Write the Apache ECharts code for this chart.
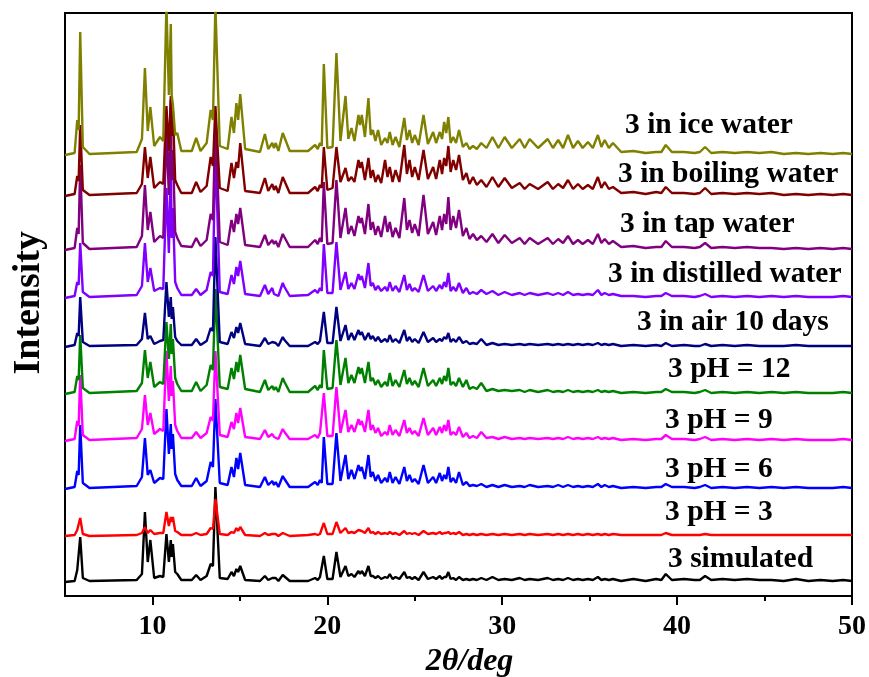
<!DOCTYPE html>
<html>
<head>
<meta charset="utf-8">
<script src="https://cdn.jsdelivr.net/npm/echarts@6/dist/echarts.min.js"></script>
<style>
html,body{margin:0;padding:0;background:#fff;}
#chart{width:869px;height:677px;}
</style>
</head>
<body>
<div id="chart"></div>
<script>
// 2θ sample positions (deg), shared by every pattern
var twoTheta = [
 5.0, 5.55, 5.7, 5.78, 5.87, 6.02, 6.4,
 9.1, 9.4, 9.57, 9.73, 9.88, 10.1, 10.43, 10.62, 10.8, 10.94, 11.05, 11.1, 11.17, 11.3, 11.42, 11.65,
 12.25, 12.5, 12.75, 13.1, 13.33, 13.46, 13.6, 13.85, 14.3, 14.52, 14.66, 14.8, 14.9, 15.02, 15.3,
 16.15, 16.43, 16.62, 16.85, 16.95, 17.05, 17.2, 17.45, 17.55, 17.85, 18.9, 19.3, 19.45, 19.58, 19.68, 19.8, 20.0,
 20.3, 20.52, 20.75, 21.04, 21.2, 21.38, 21.55, 21.78, 21.87, 21.97, 22.15, 22.35, 22.48, 22.6, 22.75, 22.9, 23.08, 23.3, 23.44, 23.57, 23.73, 23.9, 24.12,
 24.4, 24.55, 24.7, 24.85, 25.0, 25.22, 25.5, 25.75, 26.05, 26.22, 26.43, 26.56, 26.68, 26.8, 26.92, 27.05, 27.2, 27.36, 27.53, 27.75, 27.95, 28.13, 28.33, 28.55, 28.8,
 29.1, 29.44, 29.78, 30.14, 30.55, 31.0, 31.28, 31.57, 32.05, 32.6, 32.9, 33.2, 33.48, 33.76, 34.05, 34.33, 34.6, 34.9, 35.18, 35.47, 35.67, 35.86, 36.1, 36.33, 36.8,
 37.5, 38.2, 38.8, 39.1, 39.35, 39.7, 40.4, 41.0, 41.3, 41.6, 41.95, 42.6, 43.3, 44.0, 44.7, 45.4, 46.1, 46.8, 47.5, 48.2, 48.9, 49.5, 50.0
];

var simulated = [
 0,1,12,10,45,4,1,
 2,8,70,20,42,4,6,5,48,20,42,25,38,10,8,2,
 2,7,2,6,18,16,95,4,3,10,6,13,10,16,2,
 1,6,2,4,2,4,1,7,5,1,1,4,2,5,4,26,3,
 3,30,5,16,6,8,5,11,8,11,6,16,6,6,4,6,3,5,4,8,3,5,3,
 10,4,5,3,5,2,10,3,5,3,6,3,5,5,10,3,4,2,5,2,3,2,3,2,4,
 2,5,2,3,2,4,2,3,2,4,2,3,2,4,2,3,2,3,2,5,2,3,2,3,1,
 3,1,3,2,8,2,3,2,2,6,2,3,2,3,2,2,1,3,1,2,1,2,1
];
var pH3 = [
 0,1,6,5,18,2,0,
 1,3,9,3,6,2,3,3,24,10,19,14,19,5,4,1,
 1,3,1,2,8,7,37,2,1,4,3,8,5,9,1,
 0,3,1,2,1,2,0,3,2,0,1,2,1,2,2,13,2,
 2,14,3,8,3,4,3,6,4,5,3,8,3,4,2,4,2,3,2,4,2,3,1,
 5,2,3,2,3,1,5,2,3,2,4,2,3,3,4,2,3,2,4,1,2,1,2,1,2,
 1,2,1,2,1,2,1,2,1,2,1,2,1,2,1,2,1,2,1,2,1,2,1,2,1,
 1,1,1,1,3,1,1,1,1,2,1,1,1,1,1,1,1,1,1,1,1,1,1
];
var pH6 = [
 0,2,18,14,64,6,1,
 3,12,51,14,19,6,11,10,80,35,65,40,55,15,9,3,
 3,11,3,8,27,22,90,6,4,22,12,31,20,36,4,
 2,12,4,8,4,7,2,13,10,2,2,7,4,9,6,52,5,
 5,56,8,34,10,19,10,24,18,22,10,34,12,17,8,14,6,11,7,17,6,12,5,
 22,8,14,7,10,5,24,6,12,6,16,8,14,10,22,7,11,6,17,4,7,3,4,3,5,
 2,4,2,4,2,3,2,4,2,3,2,4,2,4,2,3,2,3,2,5,2,4,2,3,1,
 2,1,2,2,5,2,2,1,2,4,1,2,1,2,1,2,1,2,1,1,1,2,1
];
var pH9 = [
 0,2,20,15,66,6,1,
 3,12,46,16,28,7,12,10,90,40,75,45,60,16,10,3,
 3,9,3,8,24,20,90,6,4,19,12,28,18,33,4,
 2,11,4,7,4,6,2,12,9,2,2,6,3,8,6,48,5,
 5,54,8,31,9,16,9,22,16,20,9,31,11,16,8,13,5,9,6,16,6,11,5,
 21,8,13,7,10,5,23,6,13,6,14,8,16,10,21,6,9,6,14,4,8,3,5,3,9,
 3,4,2,4,2,3,2,3,2,3,2,3,2,4,2,3,2,3,2,4,2,3,2,3,1,
 2,1,2,2,6,2,2,1,2,4,1,2,1,2,1,2,1,2,1,1,1,2,1
];
var pH12 = [
 0,2,18,14,59,6,1,
 3,11,44,16,32,7,12,10,72,35,70,40,55,16,10,3,
 3,12,3,9,29,24,105,7,5,26,15,32,22,39,5,
 2,14,4,8,4,7,2,16,12,2,2,8,4,9,6,44,5,
 6,54,9,36,11,19,11,27,20,26,11,32,13,16,9,14,7,12,8,21,8,14,7,
 24,10,16,9,13,7,26,8,14,8,16,10,18,13,26,9,12,8,16,7,14,5,7,5,11,
 3,5,3,4,3,4,2,4,2,4,2,3,2,4,2,3,2,3,2,4,2,3,2,3,1,
 2,1,2,2,5,2,2,1,2,4,1,2,1,2,1,2,1,2,1,1,1,2,1
];
var air10days = [
 0,2,14,11,50,5,1,
 2,8,34,8,11,3,6,7,65,30,50,28,40,10,6,2,
 2,8,2,6,19,16,110,5,3,15,9,20,14,24,3,
 1,9,3,5,3,4,1,10,7,1,1,5,3,6,4,35,4,
 4,40,6,22,7,14,7,17,12,15,7,14,8,11,6,10,5,8,5,12,5,8,4,
 17,6,10,5,8,4,15,5,9,5,8,6,10,8,14,5,8,5,10,4,6,3,4,3,8,
 2,4,2,3,2,3,2,3,2,3,2,3,2,3,2,3,2,3,2,4,2,3,2,3,1,
 2,1,2,1,4,1,2,1,1,3,1,2,1,2,1,1,1,2,1,1,1,1,1
];
var distilled = [
 0,2,16,13,55,6,1,
 3,12,55,16,30,7,10,9,110,45,140,60,90,16,10,3,
 3,9,3,8,26,22,150,6,4,23,14,31,22,37,4,
 2,13,4,10,4,6,2,15,11,2,3,8,5,10,7,54,5,
 5,56,8,26,9,15,9,24,18,22,10,35,12,15,8,12,7,11,7,16,7,12,6,
 23,8,14,7,10,6,23,7,12,7,13,9,16,11,25,7,11,7,15,5,10,4,6,4,8,
 4,7,3,6,3,5,3,5,3,5,3,5,3,6,3,4,3,4,3,8,3,5,3,4,2,
 2,1,2,2,5,2,2,1,2,4,1,2,1,2,1,2,1,2,1,1,1,2,1
];
var tapWater = [
 0,2,22,16,85,7,1,
 3,14,65,20,38,8,14,12,120,55,150,70,100,18,12,4,
 3,12,4,10,36,30,130,8,5,30,18,36,26,42,5,
 3,15,5,10,6,9,3,16,14,3,3,10,6,12,8,68,6,
 7,70,12,42,16,24,14,34,27,32,16,46,20,28,15,24,13,34,18,28,13,22,12,
 52,20,30,17,26,14,55,16,28,15,34,20,36,26,53,20,34,22,40,14,22,11,16,10,14,
 8,16,7,15,7,12,6,12,6,12,6,11,7,14,6,10,6,10,6,16,7,11,6,9,3,
 4,2,3,3,9,3,3,2,3,7,2,3,2,3,2,2,1,2,1,2,1,2,1
];
var boilingWater = [
 0,2,20,15,71,6,1,
 3,12,49,18,39,8,14,12,90,45,100,60,85,16,11,3,
 3,14,4,10,39,30,90,8,5,33,18,34,28,53,5,
 3,18,5,12,6,10,3,19,15,3,3,9,5,11,8,49,6,
 8,49,14,28,15,19,14,36,28,34,16,38,18,26,14,21,13,36,19,29,14,26,14,
 51,22,36,19,29,16,46,17,29,17,36,22,38,30,50,24,36,26,41,16,23,12,19,11,16,
 9,19,9,18,8,13,7,12,7,14,7,12,8,16,7,12,7,11,7,19,8,14,7,9,3,
 4,2,4,3,9,3,3,2,3,8,2,3,2,3,2,3,1,2,1,2,1,2,1
];
var iceWater = [
 0,2,35,25,123,8,1,
 3,16,87,24,48,9,18,14,150,60,131,60,50,20,22,4,
 4,17,4,12,45,35,150,9,6,38,22,52,35,61,6,
 3,21,6,12,7,12,4,22,22,4,4,10,6,12,9,91,7,
 8,102,14,59,16,27,14,40,30,40,18,57,20,25,14,25,10,17,12,23,10,18,8,
 37,15,25,12,20,10,40,11,23,12,23,16,33,22,38,12,18,12,25,8,12,6,9,6,12,
 7,18,7,18,7,16,7,16,7,16,7,15,7,20,7,14,7,13,7,20,8,15,7,12,3,
 4,2,3,3,10,3,3,2,3,8,2,3,2,3,2,3,1,2,1,2,1,2,1
];

// stacking offset of each pattern (same units)
var stackOffset = [14, 60, 107, 155, 202, 249, 298, 346, 400, 441];
var seriesNames = ['3 simulated', '3 pH = 3', '3 pH = 6', '3 pH = 9', '3 pH = 12',
  '3 in air 10 days', '3 in distilled water', '3 in tap water', '3 in boiling water', '3 in ice water'];
var seriesValues = [simulated, pH3, pH6, pH9, pH12, air10days, distilled, tapWater, boilingWater, iceWater];
var xMajorTicks = [10, 20, 30, 40, 50];
var xMinorTicks = [15, 25, 35, 45];

var colors = ['#000000', '#ff0000', '#0000ff', '#ff00ff', '#008000', '#000080', '#8000ff', '#800080', '#800000', '#808000'];
// label placement (pixels): left x, middle y
var labelPos = [[668, 557], [665, 510], [665, 467], [665, 418], [668, 367],
  [637, 320], [608, 272], [620, 222], [618, 172], [625, 123]];

var serif = '"Liberation Serif", "Times New Roman", serif';

var series = seriesValues.map(function (vals, k) {
  return {
    name: seriesNames[k],
    type: 'line',
    symbol: 'none',
    clip: true,
    lineStyle: { color: colors[k], width: 2.4 },
    itemStyle: { color: colors[k] },
    data: twoTheta.map(function (x, i) { return [x, stackOffset[k] + vals[i]]; })
  };
});

var graphics = seriesNames.map(function (n, k) {
  return {
    type: 'text', left: labelPos[k][0], top: labelPos[k][1] - 13,
    style: { text: n, font: 'bold 29.5px ' + serif, fill: '#000' }
  };
});
graphics.push({
  type: 'text', left: 10, top: 231,
  rotation: Math.PI / 2,
  style: { text: 'Intensity', font: 'bold 38px ' + serif, fill: '#000' }
});

var chart = echarts.init(document.getElementById('chart'), null, { renderer: 'canvas' });
chart.setOption({
  animation: false,
  backgroundColor: '#fff',
  grid: { left: 65, right: 17, top: 13, bottom: 81, containLabel: false, outerBoundsMode: 'none',
    show: true, borderColor: '#000', borderWidth: 2, backgroundColor: 'transparent' },
  xAxis: [{
    type: 'value', min: 5, max: 50,
    axisLine: { show: true, onZero: false, lineStyle: { color: '#000', width: 2 } },
    axisTick: { show: true, customValues: xMajorTicks, length: 9, lineStyle: { color: '#000', width: 2 } },
    axisLabel: { customValues: xMajorTicks, margin: 17, color: '#000', fontFamily: serif, fontWeight: 'bold', fontSize: 28 },
    splitLine: { show: false },
    name: '2θ/deg', nameLocation: 'middle', nameGap: 50,
    nameTextStyle: { fontFamily: serif, fontWeight: 'bold', fontStyle: 'italic', fontSize: 32, color: '#000', padding: [0, 0, 0, 22] }
  }, {
    type: 'value', min: 5, max: 50, position: 'bottom',
    axisLine: { show: false },
    axisTick: { show: true, customValues: xMinorTicks, length: 5, lineStyle: { color: '#000', width: 2 } },
    axisLabel: { show: false },
    splitLine: { show: false }
  }],
  yAxis: {
    type: 'value', min: 0, max: 583,
    axisLine: { show: false }, axisTick: { show: false }, axisLabel: { show: false }, splitLine: { show: false }
  },
  series: series,
  graphic: graphics
});
</script>
</body>
</html>
